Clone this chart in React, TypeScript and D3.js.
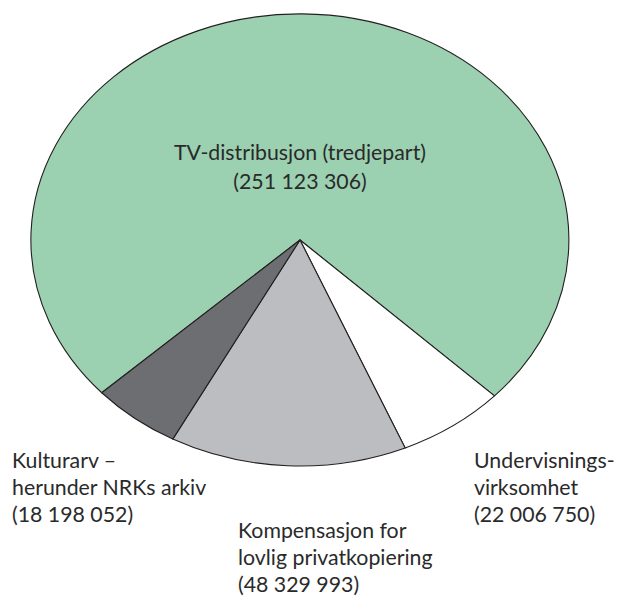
import React from "react";
import * as d3 from "d3";

const categories = [
  "TV-distribusjon (tredjepart)",
  "Undervisningsvirksomhet",
  "Kompensasjon for lovlig privatkopiering",
  "Kulturarv – herunder NRKs arkiv",
];
const values = [251123306, 22006750, 48329993, 18198052];
const colors = ["#9bd1b1", "#ffffff", "#bcbdc0", "#6d6e71"];
const labelLines = [
  ["TV-distribusjon (tredjepart)", "(251 123 306)"],
  ["Undervisnings-", "virksomhet", "(22 006 750)"],
  ["Kompensasjon for", "lovlig privatkopiering", "(48 329 993)"],
  ["Kulturarv –", "herunder NRKs arkiv", "(18 198 052)"],
];

const W = 617;
const H = 597;
const cx = 300;
const cy = 240;
const rx = 269;
const ry = 226;
const startDeg = -132.5;

const labelPos = [
  { x: 300, y: 160, anchor: "middle", lh: 29 },
  { x: 474, y: 468, anchor: "start", lh: 27 },
  { x: 238, y: 538, anchor: "start", lh: 27 },
  { x: 12, y: 468, anchor: "start", lh: 27 },
];

export default function App() {
  const start = (startDeg * Math.PI) / 180;
  const pie = d3
    .pie<number>()
    .sort(null)
    .startAngle(start)
    .endAngle(start + 2 * Math.PI);
  const arcs = pie(values);
  const arc = d3.arc<d3.PieArcDatum<number>>().innerRadius(0).outerRadius(1);

  return (
    <svg
      width={W}
      height={H}
      style={{ position: "absolute", left: 0, top: 0, background: "#fff" }}
    >
      <g transform={`translate(${cx},${cy}) scale(${rx},${ry})`}>
        {arcs.map((a, i) => (
          <path
            key={categories[i]}
            d={arc(a) || ""}
            fill={colors[i]}
            stroke="#231f20"
            strokeWidth={1.1}
            vectorEffect="non-scaling-stroke"
            strokeLinejoin="round"
          />
        ))}
      </g>
      {labelLines.map((lines, i) => (
        <text
          key={categories[i]}
          fontFamily="Lato, 'Open Sans', sans-serif"
          fontSize={21.3}
          fill="#2a2a2a"
          textAnchor={labelPos[i].anchor}
        >
          {lines.map((l, j) => (
            <tspan key={j} x={labelPos[i].x} y={labelPos[i].y + j * labelPos[i].lh}>
              {l}
            </tspan>
          ))}
        </text>
      ))}
    </svg>
  );
}
